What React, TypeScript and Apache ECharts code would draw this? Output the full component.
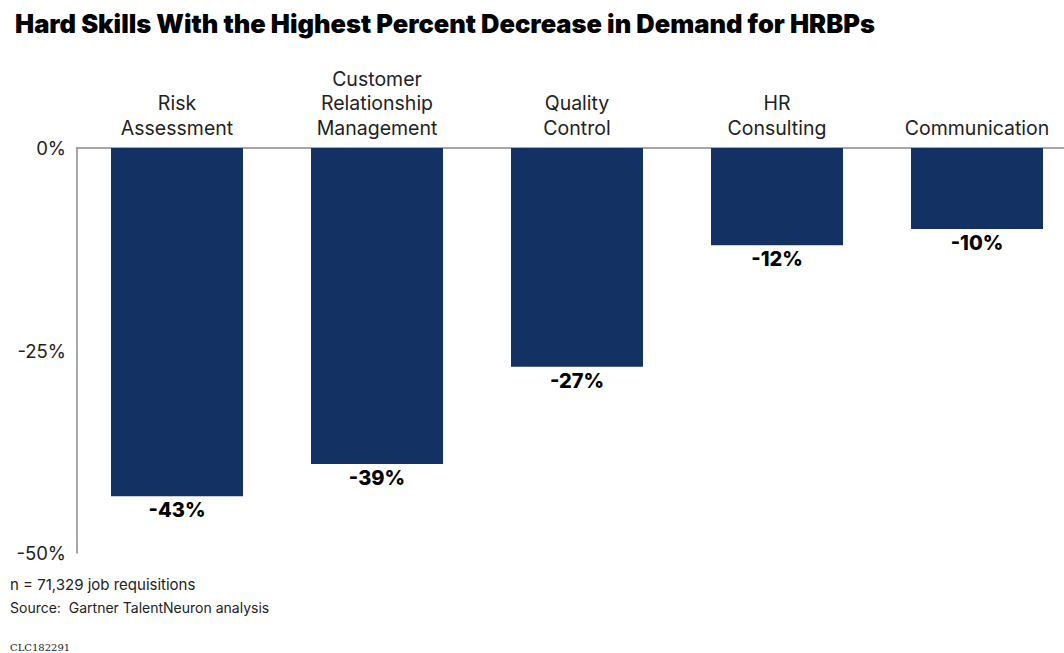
import React, { useEffect, useRef } from "react";
import * as echarts from "echarts";

const categories = [
  "Risk\nAssessment",
  "Customer\nRelationship\nManagement",
  "Quality\nControl",
  "HR\nConsulting",
  "Communication",
];
const values = [-43, -39, -27, -12, -10];
const yTicks = { min: -50, max: 0, interval: 25 };

const title = "Hard Skills With the Highest Percent Decrease in Demand for HRBPs";
const note = "n = 71,329 job requisitions";
const source = "Source:  Gartner TalentNeuron analysis";
const code = "CLC182291";

export default function App() {
  const ref = useRef<HTMLDivElement>(null);
  useEffect(() => {
    if (!ref.current) return;
    const chart = echarts.init(ref.current, null, { renderer: "svg" });
    chart.setOption({
      animation: false,
      backgroundColor: "#ffffff",
      textStyle: { fontFamily: "Inter, 'Noto Sans', sans-serif" },
      title: {
        text: title,
        left: 10,
        top: 5,
        textStyle: {
          fontFamily: "Inter, sans-serif",
          fontWeight: 900,
          fontSize: 25.5,
          color: "#000",
        },
      },
      grid: {
        left: 77,
        width: 1000,
        top: 148,
        height: 405,
        containLabel: false,
        outerBoundsMode: "none",
      },
      xAxis: {
        type: "category",
        position: "top",
        data: categories,
        axisLine: { show: true, lineStyle: { color: "#8a8a8a", width: 1.5 } },
        axisTick: { show: false },
        axisLabel: {
          color: "#222",
          fontSize: 19.5,
          lineHeight: 24.5,
          margin: 8,
          interval: 0,
        },
      },
      yAxis: {
        type: "value",
        min: yTicks.min,
        max: yTicks.max,
        interval: yTicks.interval,
        axisLine: { show: true, lineStyle: { color: "#8a8a8a", width: 1.5 } },
        axisTick: { show: false },
        splitLine: { show: false },
        axisLabel: {
          color: "#222",
          fontSize: 18.5,
          margin: 11,
          formatter: (v: number) => `${v}%`,
        },
      },
      series: [
        {
          type: "bar",
          data: values,
          barWidth: 132,
          itemStyle: { color: "#133263" },
          label: {
            show: true,
            position: "bottom",
            distance: 4,
            formatter: (p: any) => `${p.value}%`,
            fontSize: 20,
            fontWeight: 800,
            color: "#000",
          },
        },
      ],
      graphic: [
        {
          type: "text",
          left: 10,
          top: 577,
          style: { text: note, fontSize: 15, fill: "#222", fontFamily: "Inter, sans-serif" },
        },
        {
          type: "text",
          left: 10,
          top: 600,
          style: { text: source, fontSize: 14, fill: "#222", fontFamily: "Inter, sans-serif" },
        },
        {
          type: "text",
          left: 10,
          top: 642,
          style: { text: code, fontSize: 10, fill: "#222", fontFamily: "'DejaVu Serif', serif" },
        },
      ],
    });
    return () => chart.dispose();
  }, []);
  return (
    <div
      ref={ref}
      style={{ position: "fixed", left: 0, top: 0, width: 1064, height: 653 }}
    />
  );
}
